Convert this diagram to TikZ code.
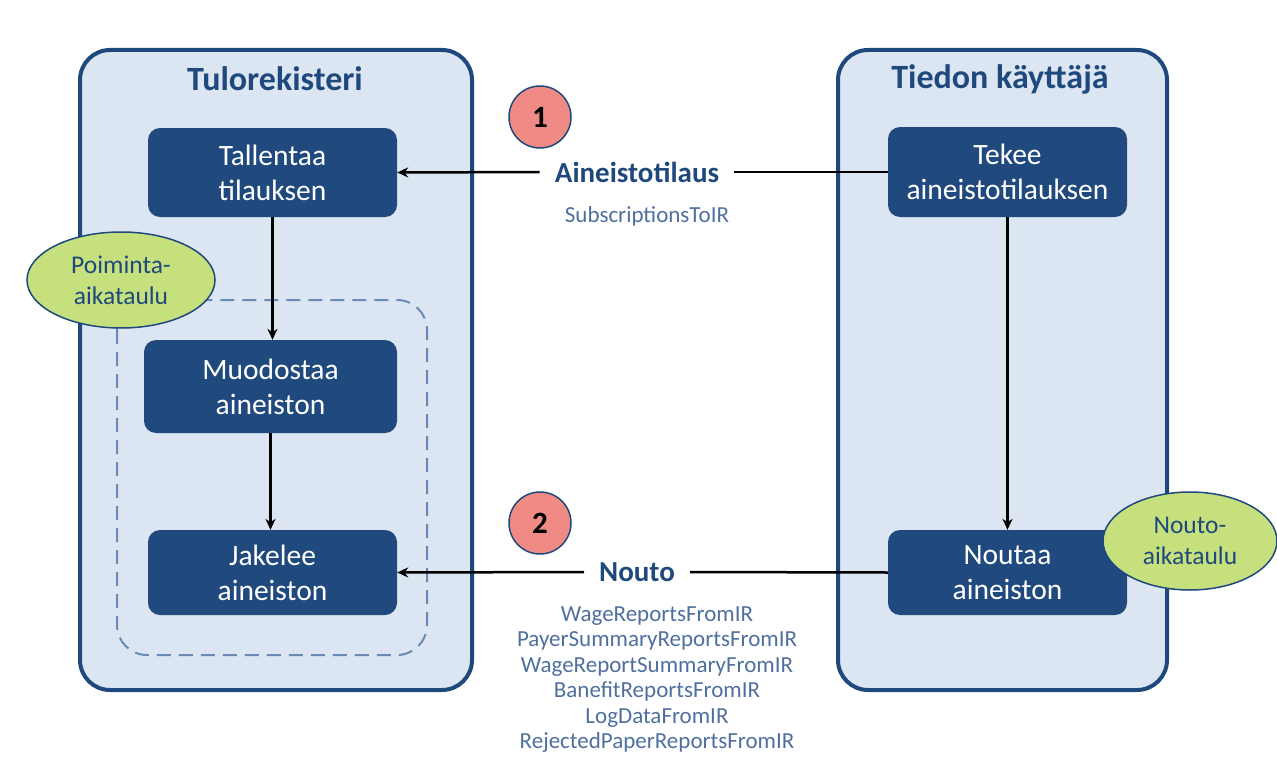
\documentclass[tikz,border=0pt]{standalone}
\usepackage{fontspec}
\setmainfont{Carlito}
\usetikzlibrary{shapes.geometric,arrows.meta}
\definecolor{dblue}{HTML}{1F497D}
\definecolor{boxblue}{HTML}{204A7E}
\definecolor{panel}{HTML}{DCE6F2}
\definecolor{dashc}{HTML}{6A8AB5}
\definecolor{lgreen}{HTML}{C6E07E}
\definecolor{pink}{HTML}{F08A84}
\definecolor{subtxt}{HTML}{4F6F9F}
\tikzset{
  panelbox/.style={draw=dblue,line width=4pt,fill=panel,rounded corners=30pt},
  stepbox/.style={fill=boxblue,text=white,rounded corners=12pt,minimum width=249pt,minimum height=89pt,align=center,font=\fontsize{29.5}{35}\selectfont,inner sep=0pt},
  titletxt/.style={text=dblue,font=\fontsize{34}{38}\selectfont\bfseries},
  bubble/.style={ellipse,draw=dblue,line width=1.5pt,fill=lgreen,text=dblue,align=center,font=\fontsize{25.5}{31}\selectfont,inner sep=0pt},
  numcirc/.style={circle,draw=dblue,line width=1.5pt,fill=pink,minimum size=62pt,inner sep=0pt,font=\fontsize{31}{34}\selectfont\bfseries},
  arr/.style={line width=2.5pt,-{Stealth[length=11pt,width=10pt]}},
  plain/.style={line width=2.5pt},
  flowlab/.style={text=dblue,font=\fontsize{29}{32}\selectfont\bfseries,inner xsep=15pt},
  sublab/.style={text=subtxt,font=\fontsize{23}{25.5}\selectfont,align=center}
}
\begin{document}
\begin{tikzpicture}[x=1pt,y=-1pt]
\useasboundingbox (0,0) rectangle (1277,776);
% panels
\path[panelbox] (80,50) rectangle (472,690);
\path[panelbox] (838,50) rectangle (1167,690);
\node[titletxt] (t1) at (275,79) {Tulorekisteri};
\node[titletxt] (t2) at (1000,79) {Tiedon käyttäjä};
% dashed group
\draw[dashc,line width=2pt,dash pattern=on 14pt off 8pt,rounded corners=30pt] (117,300) rectangle (427,655);
% step boxes
\node[stepbox] (tall) at (272.5,172.5) {Tallentaa\\tilauksen};
\node[stepbox,minimum width=253pt,minimum height=93pt] (muod) at (270.5,386.5) {Muodostaa\\aineiston};
\node[stepbox,minimum height=85pt] (jake) at (272.5,572.5) {Jakelee\\aineiston};
\node[stepbox,minimum width=239pt,minimum height=90pt] (teke) at (1007.5,172) {Tekee\\aineistotilauksen};
\node[stepbox,minimum width=239pt,minimum height=85pt] (nout) at (1007.5,572.5) {Noutaa\\aineiston};
% bubbles
\node[bubble,minimum width=188pt,minimum height=96pt] (poim) at (121,280) {Poiminta-\\aikataulu};
\node[bubble,minimum width=174pt,minimum height=98pt] (noutaik) at (1190,541) {Nouto-\\aikataulu};
% number circles
\node[numcirc] (c1) at (540,117) {1};
\node[numcirc] (c2) at (540,523) {2};
% flow labels
\node[flowlab] (lab1) at (637,172) {Aineistotilaus};
\node[sublab] (sub1) at (647,216) {SubscriptionsToIR};
\node[flowlab] (lab2) at (637,572) {Nouto};
\node[sublab,anchor=north] (sub2) at (657,603) {WageReportsFromIR\\PayerSummaryReportsFromIR\\WageReportSummaryFromIR\\BanefitReportsFromIR\\LogDataFromIR\\RejectedPaperReportsFromIR};
% connectors
\draw[plain] (teke.west) -- (lab1.east);
\draw[arr] (lab1.west) -- (tall.east);
\draw[plain] (nout.west) -- (lab2.east);
\draw[arr] (lab2.west) -- (jake.east);
\draw[arr] (tall.south) -- (muod.north -| tall.south);
\draw[arr] (muod.south) -- (jake.north -| muod.south);
\draw[arr] (teke.south) -- (nout.north);
\end{tikzpicture}
\end{document}
